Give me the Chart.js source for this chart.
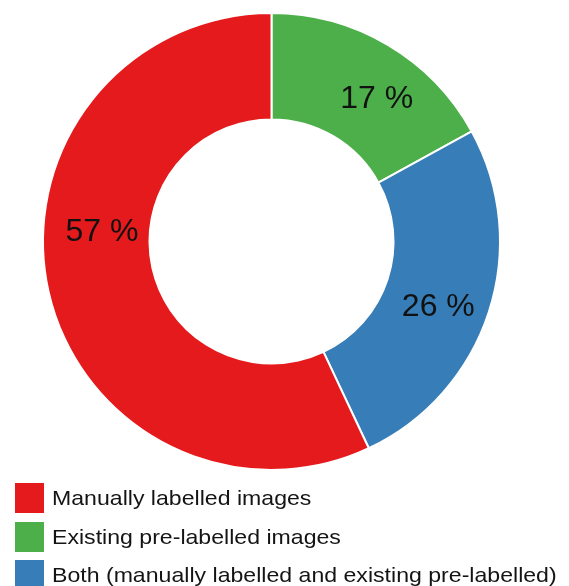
<!DOCTYPE html>
<html>
<head>
<meta charset="utf-8">
<script src="https://cdn.jsdelivr.net/npm/chart.js@4/dist/chart.umd.min.js"></script>
<style>
  html, body { margin: 0; padding: 0; background: #ffffff; }
  body { width: 569px; height: 586px; position: relative; overflow: hidden; font-family: Arial, "Liberation Sans", sans-serif; }
  #wrap { position: absolute; left: 0; top: 0; width: 569px; height: 586px; }
  #legend { position: absolute; left: 15px; top: 483px; }
  .item { position: absolute; left: 0; height: 30px; white-space: nowrap; }
  .sw { position: absolute; left: 0; top: 0; width: 29px; height: 30px; }
  .tx { position: absolute; left: 37px; top: 3px; font-size: 21px; line-height: 24px; color: #141414; transform: scaleX(1.1); transform-origin: left center; }
</style>
</head>
<body>
<div id="wrap"><canvas id="c" width="569" height="586"></canvas></div>
<div id="legend"></div>
<script>
// Slice order runs clockwise from 12 o'clock
const categories = ["Existing pre-labelled images", "Both (manually labelled and existing pre-labelled)", "Manually labelled images"];
const shares = [17, 26, 57];
const sliceColors = ["#4DAF4A", "#377EB8", "#E41A1C"];
// Legend lists the categories in this order
const legendOrder = [2, 0, 1];
// Where each percentage label sits inside its slice: fraction along the arc, fraction across the ring
const labelAlong = [0.59, 0.53, 0.58];
const labelAcross = [0.53, 0.53, 0.45];

const pctLabels = {
  id: 'pctLabels',
  afterDatasetsDraw(chart) {
    const ctx = chart.ctx;
    const meta = chart.getDatasetMeta(0);
    ctx.save();
    ctx.font = '32px Arial, "Liberation Sans", sans-serif';
    ctx.fillStyle = '#111111';
    ctx.textAlign = 'center';
    ctx.textBaseline = 'middle';
    meta.data.forEach((arc, i) => {
      const p = arc.getProps(['x', 'y', 'startAngle', 'endAngle', 'innerRadius', 'outerRadius'], true);
      const a = p.startAngle + (p.endAngle - p.startAngle) * labelAlong[i];
      const r = p.innerRadius + (p.outerRadius - p.innerRadius) * labelAcross[i];
      ctx.fillText(shares[i] + ' %', p.x + Math.cos(a) * r, p.y + Math.sin(a) * r + 2);
    });
    ctx.restore();
  }
};

new Chart(document.getElementById('c'), {
  type: 'doughnut',
  data: {
    labels: categories,
    datasets: [{
      data: shares,
      backgroundColor: sliceColors,
      borderColor: '#ffffff',
      borderWidth: 2
    }]
  },
  options: {
    responsive: false,
    animation: false,
    cutout: '53.4%',
    layout: { padding: { left: 42, top: 12, right: 68, bottom: 115 } },
    plugins: { legend: { display: false }, tooltip: { enabled: false } }
  },
  plugins: [pctLabels]
});

// Legend built from the same categories and colours
const legend = document.getElementById('legend');
legendOrder.forEach((idx, row) => {
  const item = document.createElement('div');
  item.className = 'item';
  item.style.top = (row * 38.5) + 'px';
  const sw = document.createElement('div');
  sw.className = 'sw';
  sw.style.background = sliceColors[idx];
  const tx = document.createElement('div');
  tx.className = 'tx';
  tx.textContent = categories[idx];
  item.appendChild(sw);
  item.appendChild(tx);
  legend.appendChild(item);
});
</script>
</body>
</html>
